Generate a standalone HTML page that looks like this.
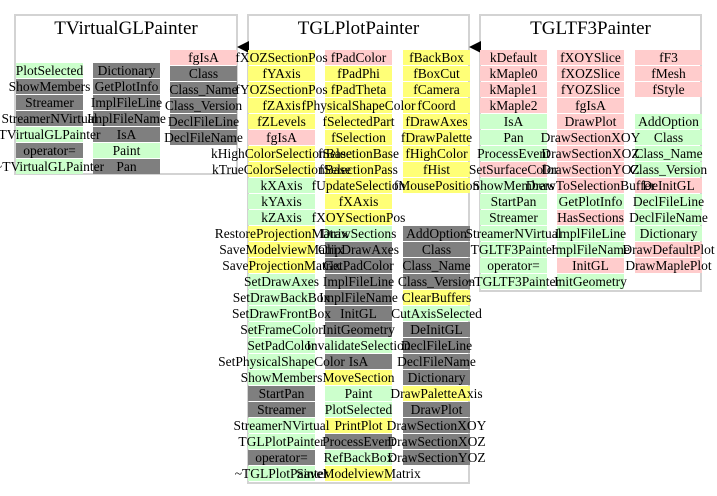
<!DOCTYPE html>
<html><head><meta charset="utf-8"><style>
body{margin:0;width:717px;height:496px;background:#fff;position:relative;overflow:hidden;font-family:"Liberation Serif",serif;}
.box{position:absolute;border:2px solid #d3d3d3;box-sizing:border-box;background:#fff;}
.t{position:absolute;font-size:19px;text-align:center;white-space:nowrap;color:#000;}
.col{position:absolute;width:67px;}
.col div{height:15px;margin-bottom:1px;font-size:13.5px;line-height:15px;text-align:center;white-space:nowrap;display:flex;justify-content:center;color:#000;overflow:visible;}
.col div span{position:relative;z-index:1;}
.g{background:#ccffcc}.k{background:#7f7f7f}.p{background:#ffcccc}.y{background:#ffff77}.e{background:transparent}
</style></head><body>
<div class="box" style="left:14px;top:14px;width:224px;height:161px"></div>
<div class="t" style="left:14px;width:224px;top:18px">TVirtualGLPainter</div>
<div class="box" style="left:247px;top:14px;width:223px;height:470px"></div>
<div class="t" style="left:247px;width:223px;top:18px">TGLPlotPainter</div>
<div class="box" style="left:479px;top:14px;width:223px;height:278px"></div>
<div class="t" style="left:479px;width:223px;top:18px">TGLTF3Painter</div>
<svg style="position:absolute;left:0;top:0" width="717" height="496"><polygon points="237,47 249,41 249,53" fill="#000"/><polygon points="469,47 481,41 481,53" fill="#000"/></svg>

<div class="col" style="left:16px;top:63px">
<div class="g"><span>PlotSelected</span></div><div class="k"><span>ShowMembers</span></div><div class="k"><span>Streamer</span></div><div class="k"><span>StreamerNVirtual</span></div><div class="g"><span>TVirtualGLPainter</span></div><div class="k"><span>operator=</span></div><div class="g"><span>~TVirtualGLPainter</span></div></div>
<div class="col" style="left:93px;top:63px">
<div class="k"><span>Dictionary</span></div><div class="k"><span>GetPlotInfo</span></div><div class="k"><span>ImplFileLine</span></div><div class="k"><span>ImplFileName</span></div><div class="k"><span>IsA</span></div><div class="g"><span>Paint</span></div><div class="k"><span>Pan</span></div></div>
<div class="col" style="left:170px;top:50px">
<div class="p"><span>fgIsA</span></div><div class="k"><span>Class</span></div><div class="k"><span>Class_Name</span></div><div class="k"><span>Class_Version</span></div><div class="k"><span>DeclFileLine</span></div><div class="k"><span>DeclFileName</span></div></div>

<div class="col" style="left:248px;top:50px">
<div class="y"><span>fXOZSectionPos</span></div><div class="y"><span>fYAxis</span></div><div class="y"><span>fYOZSectionPos</span></div><div class="y"><span>fZAxis</span></div><div class="y"><span>fZLevels</span></div><div class="p"><span>fgIsA</span></div><div class="y"><span>kHighColorSelectionBase</span></div><div class="y"><span>kTrueColorSelectionBase</span></div><div class="g"><span>kXAxis</span></div><div class="g"><span>kYAxis</span></div><div class="g"><span>kZAxis</span></div><div class="y"><span>RestoreProjectionMatrix</span></div><div class="y"><span>SaveModelviewMatrix</span></div><div class="y"><span>SaveProjectionMatrix</span></div><div class="g"><span>SetDrawAxes</span></div><div class="g"><span>SetDrawBackBox</span></div><div class="g"><span>SetDrawFrontBox</span></div><div class="g"><span>SetFrameColor</span></div><div class="g"><span>SetPadColor</span></div><div class="g"><span>SetPhysicalShapeColor</span></div><div class="g"><span>ShowMembers</span></div><div class="k"><span>StartPan</span></div><div class="k"><span>Streamer</span></div><div class="g"><span>StreamerNVirtual</span></div><div class="g"><span>TGLPlotPainter</span></div><div class="k"><span>operator=</span></div><div class="g"><span>~TGLPlotPainter</span></div></div>
<div class="col" style="left:325px;top:50px">
<div class="p"><span>fPadColor</span></div><div class="y"><span>fPadPhi</span></div><div class="y"><span>fPadTheta</span></div><div class="y"><span>fPhysicalShapeColor</span></div><div class="y"><span>fSelectedPart</span></div><div class="y"><span>fSelection</span></div><div class="y"><span>fSelectionBase</span></div><div class="y"><span>fSelectionPass</span></div><div class="y"><span>fUpdateSelection</span></div><div class="y"><span>fXAxis</span></div><div class="y"><span>fXOYSectionPos</span></div><div class="g"><span>DrawSections</span></div><div class="k"><span>ClipDrawAxes</span></div><div class="k"><span>GetPadColor</span></div><div class="k"><span>ImplFileLine</span></div><div class="k"><span>ImplFileName</span></div><div class="k"><span>InitGL</span></div><div class="k"><span>InitGeometry</span></div><div class="g"><span>InvalidateSelection</span></div><div class="k"><span>IsA</span></div><div class="y"><span>MoveSection</span></div><div class="g"><span>Paint</span></div><div class="g"><span>PlotSelected</span></div><div class="y"><span>PrintPlot</span></div><div class="k"><span>ProcessEvent</span></div><div class="g"><span>RefBackBox</span></div><div class="y"><span>SaveModelviewMatrix</span></div></div>
<div class="col" style="left:403px;top:50px">
<div class="y"><span>fBackBox</span></div><div class="y"><span>fBoxCut</span></div><div class="y"><span>fCamera</span></div><div class="y"><span>fCoord</span></div><div class="y"><span>fDrawAxes</span></div><div class="y"><span>fDrawPalette</span></div><div class="y"><span>fHighColor</span></div><div class="y"><span>fHist</span></div><div class="y"><span>fMousePosition</span></div><div class="e"></div><div class="e"></div><div class="k"><span>AddOption</span></div><div class="k"><span>Class</span></div><div class="k"><span>Class_Name</span></div><div class="k"><span>Class_Version</span></div><div class="y"><span>ClearBuffers</span></div><div class="g"><span>CutAxisSelected</span></div><div class="k"><span>DeInitGL</span></div><div class="k"><span>DeclFileLine</span></div><div class="k"><span>DeclFileName</span></div><div class="k"><span>Dictionary</span></div><div class="y"><span>DrawPaletteAxis</span></div><div class="k"><span>DrawPlot</span></div><div class="k"><span>DrawSectionXOY</span></div><div class="k"><span>DrawSectionXOZ</span></div><div class="k"><span>DrawSectionYOZ</span></div></div>

<div class="col" style="left:480px;top:50px">
<div class="p"><span>kDefault</span></div><div class="p"><span>kMaple0</span></div><div class="p"><span>kMaple1</span></div><div class="p"><span>kMaple2</span></div><div class="g"><span>IsA</span></div><div class="g"><span>Pan</span></div><div class="g"><span>ProcessEvent</span></div><div class="p"><span>SetSurfaceColor</span></div><div class="g"><span>ShowMembers</span></div><div class="g"><span>StartPan</span></div><div class="g"><span>Streamer</span></div><div class="g"><span>StreamerNVirtual</span></div><div class="g"><span>TGLTF3Painter</span></div><div class="g"><span>operator=</span></div><div class="g"><span>~TGLTF3Painter</span></div></div>
<div class="col" style="left:557px;top:50px">
<div class="p"><span>fXOYSlice</span></div><div class="p"><span>fXOZSlice</span></div><div class="p"><span>fYOZSlice</span></div><div class="p"><span>fgIsA</span></div><div class="p"><span>DrawPlot</span></div><div class="p"><span>DrawSectionXOY</span></div><div class="p"><span>DrawSectionXOZ</span></div><div class="p"><span>DrawSectionYOZ</span></div><div class="p"><span>DrawToSelectionBuffer</span></div><div class="g"><span>GetPlotInfo</span></div><div class="p"><span>HasSections</span></div><div class="g"><span>ImplFileLine</span></div><div class="g"><span>ImplFileName</span></div><div class="p"><span>InitGL</span></div><div class="g"><span>InitGeometry</span></div></div>
<div class="col" style="left:635px;top:50px">
<div class="p"><span>fF3</span></div><div class="p"><span>fMesh</span></div><div class="p"><span>fStyle</span></div><div class="e"></div><div class="g"><span>AddOption</span></div><div class="g"><span>Class</span></div><div class="g"><span>Class_Name</span></div><div class="g"><span>Class_Version</span></div><div class="p"><span>DeInitGL</span></div><div class="g"><span>DeclFileLine</span></div><div class="g"><span>DeclFileName</span></div><div class="g"><span>Dictionary</span></div><div class="p"><span>DrawDefaultPlot</span></div><div class="p"><span>DrawMaplePlot</span></div></div>
</body></html>
